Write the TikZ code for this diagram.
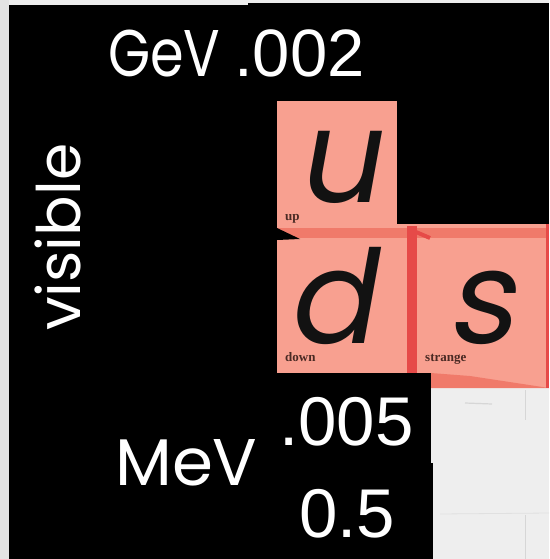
\documentclass[tikz,border=0pt]{standalone}
\usepackage{fontspec}
\setmainfont{Liberation Sans}
\newfontfamily\handfont{Poppins}
\newfontfamily\numfont{Liberation Sans}
\newfontfamily\quarkfont[FakeSlant=0.18]{Poppins}
\newfontfamily\tagfont{Liberation Serif}

\definecolor{paper}{HTML}{EEEEEE}
\definecolor{paperedge}{HTML}{E3E3E3}
\definecolor{faint}{HTML}{D6D6D6}
\definecolor{cell}{HTML}{F8A090}
\definecolor{band}{HTML}{F07A6A}
\definecolor{divider}{HTML}{E64A48}
\definecolor{tagink}{HTML}{4A2A24}

\tikzset{
  hand/.style={text=white, inner sep=0pt, anchor=base west,
    font=\handfont\fontsize{66}{66}\selectfont},
  num/.style={text=white, inner sep=0pt, anchor=base west,
    font=\numfont\fontsize{69}{69}\selectfont},
  quark/.style={text=black!93, inner sep=0pt, anchor=base west, text depth=0pt,
    font=\quarkfont\fontsize{130}{130}\selectfont},
  tag/.style={text=tagink, inner sep=0pt, anchor=base west,
    font=\tagfont\bfseries\fontsize{13}{13}\selectfont},
}

\begin{document}
\begin{tikzpicture}[x=1pt, y=-1pt]
  \useasboundingbox (0,0) rectangle (549,559);

  % paper behind the slide
  \fill[paper] (0,0) rectangle (549,559);
  \fill[paperedge] (0,0) rectangle (9,559);
  \draw[faint, line width=1.2pt] (465,403) -- (492,404);
  \draw[faint, line width=0.8pt] (525,390) -- (525,420);
  \draw[faint, line width=0.8pt] (525,515) -- (525,559);
  \draw[faint!60!paper, line width=0.8pt] (440,514) -- (549,513);

  % black masks
  \fill[black] (9,5) rectangle (277,559);
  \fill[black] (248,3) rectangle (549,224);
  \fill[black] (9,373) rectangle (431,463);
  \fill[black] (9,463) rectangle (433,559);

  % quark cells
  \fill[cell] (277,101) rectangle (397,228);
  \fill[cell] (397,224) rectangle (549,228);
  \fill[band] (277,228) rectangle (549,238);
  \fill[cell] (277,238) rectangle (549,373);
  \fill[cell] (431,370) rectangle (549,388);
  \fill[band] (431,373) -- (470,376) -- (549,388) -- (431,388) -- cycle;
  \fill[divider] (407,226) rectangle (417,373);
  \draw[divider, line width=4pt] (409,229) -- (430,238);
  \fill[divider] (546,224) rectangle (549,388);
  \fill[black] (277,228) -- (300,239) -- (277,240) -- cycle;

  % quark symbols and names
  \node[quark] (u) at (296,202) {u};
  \node[quark] (d) at (286,343) {d};
  \node[quark] (s) at (446,343) {s};
  \node[tag] (up) at (285,220) {up};
  \node[tag] (down) at (285,361) {down};
  \node[tag] (strange) at (425,361) {strange};

  % masses and units
  \node[hand] (gev) at (108,77) {\scalebox{0.82}[1]{GeV}};
  \node[num, font=\numfont\fontsize{67}{67}\selectfont] (m1) at (234,77) {.002};
  \node[hand] (mev) at (115,485) {MeV};
  \node[num] (m2) at (279,445) {.005};
  \node[num] (m3) at (299,537) {0.5};
  \node[hand, rotate=90, font=\handfont\fontsize{60}{60}\selectfont]
    (vis) at (80,331) {visible};
\end{tikzpicture}
\end{document}
